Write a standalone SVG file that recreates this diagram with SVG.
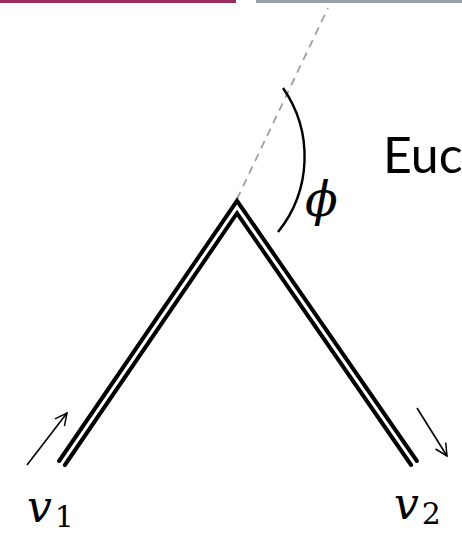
<svg xmlns="http://www.w3.org/2000/svg" width="462" height="534" viewBox="0 0 462 534">
<defs>
<style>
.bar-a{fill:#9b2d5e}
.bar-b{fill:#9aa0a6}
.wire{fill:none;stroke:#000;stroke-width:4;stroke-linejoin:miter;stroke-linecap:round}
.dash{fill:none;stroke:#9aa0a6;stroke-width:1.8;stroke-dasharray:8 6}
.thin{fill:none;stroke:#000;stroke-width:1.6}
.arc{fill:none;stroke:#000;stroke-width:2.4}
.math{font-family:"DejaVu Serif","Liberation Serif",serif;font-style:italic;fill:#000}
.sub{font-family:"DejaVu Serif","Liberation Serif",serif;font-style:normal}
.label{font-family:Lato,"Open Sans","Liberation Sans",sans-serif;fill:#000}
</style>
<marker id="ah" viewBox="0 0 14 14" refX="13" refY="7" markerWidth="14" markerHeight="14" markerUnits="userSpaceOnUse" orient="auto">
<path d="M1,1 L13,7 L1,13" fill="none" stroke="#000" stroke-width="1.5"/>
</marker>
</defs>
<g id="header">
<rect class="bar-a" x="0" y="0" width="236" height="3"/>
<rect class="bar-b" x="256" y="0" width="206" height="3"/>
</g>
<g id="connectors">
<line class="dash" x1="237" y1="199" x2="328" y2="8"/>
<polyline class="wire" points="59.1,461 237,200.8 416.9,461"/>
<polyline class="wire" points="64.9,465 237,213.2 411.1,465"/>
<path class="arc" d="M283,88 A120,120 0 0 1 278,232"/>
<line class="thin" x1="27" y1="465" x2="67" y2="413" marker-end="url(#ah)"/>
<line class="thin" x1="417" y1="408" x2="447" y2="456" marker-end="url(#ah)"/>
</g>
<g id="phi"><text class="math" x="305" y="216" font-size="48">ϕ</text></g>
<g id="euc"><text class="label" x="383" y="173" font-size="50">Euc</text></g>
<g id="v1"><text class="math" x="27" y="522" font-size="44">v<tspan class="sub" font-size="30" dx="3" dy="5">1</tspan></text></g>
<g id="v2"><text class="math" x="394" y="519" font-size="44">v<tspan class="sub" font-size="30" dx="3" dy="5">2</tspan></text></g>
</svg>
